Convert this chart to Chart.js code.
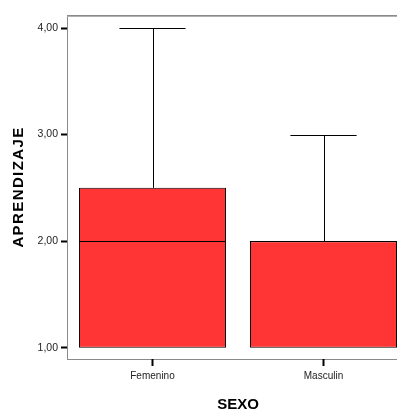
<!DOCTYPE html>
<html>
<head>
<meta charset="utf-8">
<title>APRENDIZAJE por SEXO</title>
<script src="https://cdn.jsdelivr.net/npm/chart.js@4/dist/chart.umd.min.js"></script>
<style>
  html, body { margin: 0; padding: 0; overflow: hidden; background: #ffffff; }
  #wrap { width: 410px; height: 412px; }
  canvas { display: block; }
</style>
</head>
<body>
<div id="wrap"><canvas id="chart" width="410" height="412"></canvas></div>
<script>
// Box-plot summary of APRENDIZAJE for each SEXO group
const categories = ['Femenino', 'Masculin'];
const minValues = [1, 1];
const q1Values = [1, 1];
const medianValues = [2, 2];
const q3Values = [2.5, 2];
const maxValues = [4, 3];
const yTickValues = [1, 2, 3, 4];

const FONT = "'Liberation Sans', Arial, Helvetica, sans-serif";
Chart.defaults.font.family = FONT;

const formatTick = v => Number(v).toFixed(2).replace('.', ',');

// Letter spacing for the vertical title (drawn in the pre-dataset layer)
const spacingPlugin = {
  id: 'titleSpacing',
  beforeDraw(chart) { chart.ctx.letterSpacing = '1.4px'; },
  beforeDatasetsDraw(chart) { chart.ctx.letterSpacing = '0px'; }
};

// Grey frame around the plotting area
const framePlugin = {
  id: 'frame',
  beforeDatasetsDraw(chart) {
    const { ctx, chartArea: a } = chart;
    ctx.save();
    ctx.strokeStyle = '#8a8a8a';
    ctx.lineWidth = 1;
    ctx.strokeRect(Math.round(a.left) + 0.5, Math.round(a.top) + 0.5,
                   Math.round(a.right - a.left), Math.round(a.bottom - a.top));
    ctx.beginPath();
    ctx.moveTo(a.left, Math.round(a.top) + 1.5);
    ctx.lineTo(a.right, Math.round(a.top) + 1.5);
    ctx.strokeStyle = '#b0b0b0';
    ctx.stroke();
    ctx.restore();
  }
};

// Median line and whiskers on top of each box
const whiskerPlugin = {
  id: 'whiskers',
  afterDatasetsDraw(chart) {
    const { ctx } = chart;
    const ys = chart.scales.y;
    const meta = chart.getDatasetMeta(0);
    const crisp = v => Math.round(v) + 0.5;
    ctx.save();
    ctx.lineWidth = 1;
    ctx.strokeStyle = '#000000';
    meta.data.forEach((bar, i) => {
      const { x, width } = bar.getProps(['x', 'width'], true);
      const left = x - width / 2, right = x + width / 2;
      const cx = crisp(x);
      const capHalf = width * 0.225;
      const line = (x1, y1, x2, y2) => {
        ctx.beginPath(); ctx.moveTo(x1, y1); ctx.lineTo(x2, y2); ctx.stroke();
      };
      // median
      const ym = crisp(ys.getPixelForValue(medianValues[i]));
      line(left, ym, right, ym);
      // upper whisker
      if (maxValues[i] > q3Values[i]) {
        const yq3 = ys.getPixelForValue(q3Values[i]);
        const ymax = crisp(ys.getPixelForValue(maxValues[i]));
        line(cx, yq3, cx, ymax);
        line(x - capHalf, ymax, x + capHalf, ymax);
      }
      // lower whisker
      if (minValues[i] < q1Values[i]) {
        const yq1 = ys.getPixelForValue(q1Values[i]);
        const ymin = crisp(ys.getPixelForValue(minValues[i]));
        line(cx, yq1, cx, ymin);
        line(x - capHalf, ymin, x + capHalf, ymin);
      }
    });
    ctx.restore();
  }
};

new Chart(document.getElementById('chart'), {
  type: 'bar',
  data: {
    labels: categories,
    datasets: [{
      data: categories.map((_, i) => [q1Values[i], q3Values[i]]),
      backgroundColor: '#ff3535',
      borderColor: '#000000',
      borderWidth: 1,
      borderSkipped: false,
      barPercentage: 0.86,
      categoryPercentage: 1
    }]
  },
  options: {
    responsive: false,
    animation: false,
    devicePixelRatio: 1,
    layout: { padding: { top: 15, left: 0, right: 1, bottom: 0 } },
    plugins: { legend: { display: false }, tooltip: { enabled: false } },
    scales: {
      x: {
        offset: true,
        border: { display: false },
        grid: { drawOnChartArea: false, offset: false, tickLength: 7, tickWidth: 2, tickColor: '#000000', z: 1 },
        ticks: { color: '#222222', font: { size: 10 }, padding: 4, maxRotation: 0, z: 1 },
        title: {
          display: true, text: 'SEXO', color: '#000000',
          font: { size: 15, weight: 'bold', lineHeight: 1 },
          padding: { top: 0, bottom: 0 }
        },
        afterFit(scale) { scale.height = 53; }
      },
      y: {
        min: 0.894,
        max: 4.122,
        border: { display: false },
        grid: { drawOnChartArea: false, tickLength: 6, tickWidth: 2, tickColor: '#000000' },
        ticks: { color: '#222222', font: { size: 10.5 }, padding: 3, z: 1, callback: v => formatTick(v) },
        afterBuildTicks(scale) { scale.ticks = yTickValues.map(v => ({ value: v })); },
        title: {
          display: true, text: 'APRENDIZAJE', color: '#000000',
          font: { size: 15, weight: 'bold', lineHeight: 1 },
          padding: { top: 11, bottom: 0 }
        },
        afterFit(scale) { scale.width = 67; }
      }
    }
  },
  plugins: [spacingPlugin, framePlugin, whiskerPlugin]
});
</script>
</body>
</html>
